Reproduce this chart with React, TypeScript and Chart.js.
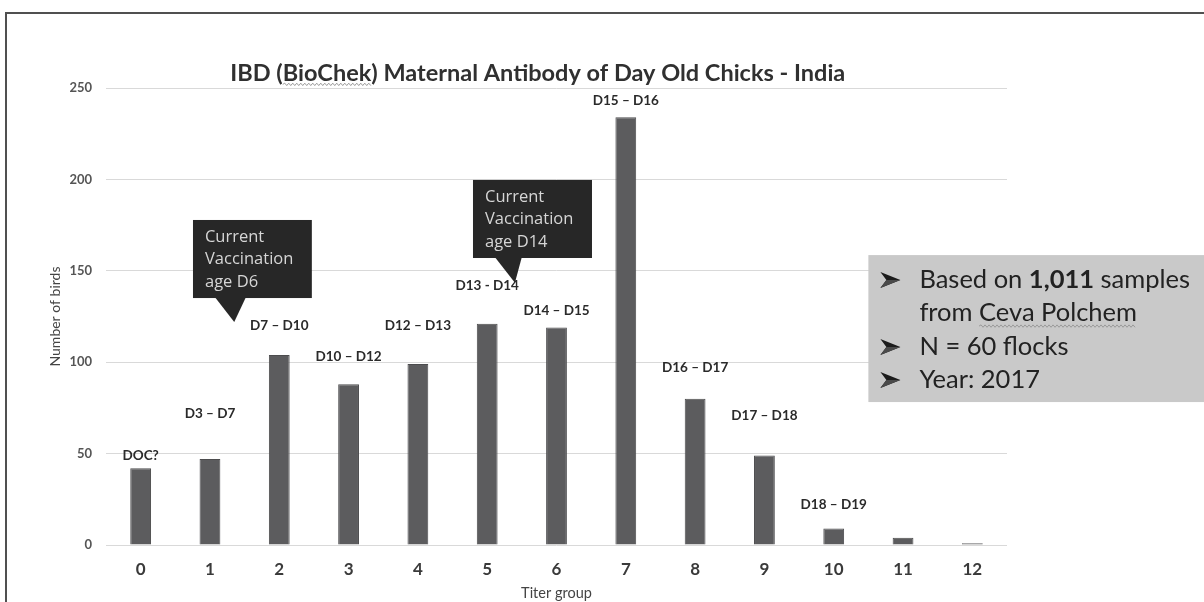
import React, { useEffect, useRef } from "react";
import { Chart, registerables } from "chart.js";

Chart.register(...registerables);

// ---------- data ----------
const categories = ["0", "1", "2", "3", "4", "5", "6", "7", "8", "9", "10", "11", "12"];
const birdCounts = [42, 47, 104, 88, 99, 121, 119, 234, 80, 49, 9, 4, 1];
const rangeLabels = [
  "DOC?",
  "D3 – D7",
  "D7 – D10",
  "D10 – D12",
  "D12 – D13",
  "D13 - D14",
  "D14 – D15",
  "D15 – D16",
  "D16 – D17",
  "D17 – D18",
  "D18 – D19",
  "",
  "",
];
// level (in "Number of birds" units) at which each range label sits
const rangeLabelLevels = [49, 72, 120, 103, 120, 142, 128, 243, 97, 71, 22, 0, 0];
const yTickValues = [0, 50, 100, 150, 200, 250];

const titleText = "IBD (BioChek) Maternal Antibody of Day Old Chicks - India";
const xAxisTitle = "Titer group";
const yAxisTitle = "Number of birds";

const callout1Lines = ["Current", "Vaccination", "age D6"];
const callout2Lines = ["Current", "Vaccination", "age D14"];

const infoLine1 = ["Based on ", "1,011", " samples"];
const infoLine2 = ["from ", "Ceva Polchem"];
const infoLine3 = "N = 60 flocks";
const infoLine4 = "Year: 2017";

// ---------- annotation geometry (category units / value units) ----------
const calloutShapes = [
  { lines: callout1Lines, x0: 0.755, x1: 2.47, yTop: 177.8, yBottom: 135.1, baseL: 1.07, baseR: 1.52, tipX: 1.35, tipY: 122 },
  { lines: callout2Lines, x0: 4.795, x1: 6.512, yTop: 199.7, yBottom: 157, baseL: 5.11, baseR: 5.5, tipX: 5.4, tipY: 143.5 },
];

function wavy(ctx: CanvasRenderingContext2D, x0: number, x1: number, yy: number) {
  ctx.save();
  ctx.strokeStyle = "#9a9a9a";
  ctx.lineWidth = 1;
  ctx.beginPath();
  let up = true;
  ctx.moveTo(x0, yy);
  for (let xx = x0 + 2; xx <= x1; xx += 2) {
    ctx.lineTo(xx, up ? yy - 1.2 : yy + 1.2);
    up = !up;
  }
  ctx.stroke();
  ctx.restore();
}

function arrowBullet(ctx: CanvasRenderingContext2D, x: number, cy: number) {
  ctx.save();
  ctx.fillStyle = "#1c1c1c";
  ctx.beginPath();
  ctx.moveTo(x, cy - 8);
  ctx.lineTo(x + 20, cy);
  ctx.lineTo(x, cy + 8);
  ctx.lineTo(x + 6, cy);
  ctx.closePath();
  ctx.fill();
  ctx.fillStyle = "#4a4a4a";
  ctx.beginPath();
  ctx.moveTo(x + 6, cy);
  ctx.lineTo(x + 20, cy);
  ctx.lineTo(x, cy + 8);
  ctx.closePath();
  ctx.fill();
  ctx.restore();
}

const decorPlugin = {
  id: "decor",
  beforeDraw(chart: any) {
    const ctx = chart.ctx;
    ctx.save();
    ctx.fillStyle = "#ffffff";
    ctx.fillRect(0, 0, chart.width, chart.height);
    ctx.restore();
  },
  afterDraw(chart: any) {
    const ctx: CanvasRenderingContext2D = chart.ctx;
    const xs = chart.scales.x;
    const ys = chart.scales.y;
    const step = xs.getPixelForValue(1) - xs.getPixelForValue(0);
    const px = (c: number) => xs.getPixelForValue(0) + c * step;
    const py = (v: number) => ys.getPixelForValue(v);

    ctx.save();

    // frame (top and left edges)
    ctx.strokeStyle = "#505050";
    ctx.lineWidth = 2;
    ctx.beginPath();
    ctx.moveTo(6, chart.height);
    ctx.lineTo(6, 13);
    ctx.lineTo(chart.width, 13);
    ctx.stroke();

    // title
    ctx.font = "bold 23.5px Lato";
    ctx.fillStyle = "#303030";
    ctx.textBaseline = "middle";
    ctx.textAlign = "left";
    const tw = ctx.measureText(titleText).width;
    const tcx = px(5.73);
    const tx = tcx - tw / 2;
    const tY = py(258);
    ctx.fillText(titleText, tx, tY);
    const preW = ctx.measureText("IBD (").width;
    const bcW = ctx.measureText("BioChek").width;
    wavy(ctx, tx + preW, tx + preW + bcW, tY + 11);

    // range labels above bars
    ctx.font = "bold 13.5px Lato";
    ctx.fillStyle = "#2a2a2a";
    ctx.textAlign = "center";
    ctx.textBaseline = "middle";
    rangeLabels.forEach((t, i) => {
      if (!t) return;
      ctx.fillText(t, px(i), py(rangeLabelLevels[i]));
    });

    // callouts
    calloutShapes.forEach((c) => {
      const l = px(c.x0), r = px(c.x1), t = py(c.yTop), b = py(c.yBottom);
      ctx.fillStyle = "#272727";
      ctx.fillRect(l, t, r - l, b - t);
      ctx.beginPath();
      ctx.moveTo(px(c.baseL), b - 1);
      ctx.lineTo(px(c.tipX), py(c.tipY));
      ctx.lineTo(px(c.baseR), b - 1);
      ctx.closePath();
      ctx.fill();
      ctx.fillStyle = "#d6d6d6";
      ctx.font = "16.5px 'Open Sans'";
      ctx.textAlign = "left";
      ctx.textBaseline = "middle";
      c.lines.forEach((ln, k) => {
        ctx.fillText(ln, l + 12, t + 17 + k * 22.5);
      });
    });

    // info box
    const bl = px(10.5);
    const bt = py(158.6);
    const bb = py(78.2);
    ctx.fillStyle = "#c9c9c9";
    ctx.fillRect(bl, bt, chart.width - bl, bb - bt);
    const bx = bl + 12;
    const txx = bl + 51;
    const rows = [bt + 25, bt + 58, bt + 92, bt + 125];
    rows.forEach((ry, k) => {
      if (k === 1) return;
      arrowBullet(ctx, bx, ry);
    });
    ctx.fillStyle = "#222222";
    ctx.textAlign = "left";
    ctx.textBaseline = "middle";
    const reg = "25.5px Lato";
    const bold = "bold 25.5px Lato";
    // line 1
    let cx = txx;
    ctx.font = reg;
    ctx.fillText(infoLine1[0], cx, rows[0]);
    cx += ctx.measureText(infoLine1[0]).width;
    ctx.font = bold;
    ctx.fillText(infoLine1[1], cx, rows[0]);
    cx += ctx.measureText(infoLine1[1]).width;
    ctx.font = reg;
    ctx.fillText(infoLine1[2], cx, rows[0]);
    // line 2
    ctx.font = reg;
    ctx.fillText(infoLine2[0] + infoLine2[1], txx, rows[1]);
    const fw = ctx.measureText(infoLine2[0]).width;
    const cw = ctx.measureText(infoLine2[1]).width;
    wavy(ctx, txx + fw, txx + fw + cw, rows[1] + 13);
    // lines 3,4
    ctx.fillText(infoLine3, txx, rows[2]);
    ctx.fillText(infoLine4, txx, rows[3]);

    ctx.restore();
  },
};

export default function App() {
  const ref = useRef<HTMLCanvasElement | null>(null);

  useEffect(() => {
    document.body.style.margin = "0";
    if (!ref.current) return;
    const chart = new Chart(ref.current, {
      type: "bar",
      data: {
        labels: categories,
        datasets: [
          {
            data: birdCounts,
            backgroundColor: "#5c5c5e",
            borderColor: "#4c4c4e",
            borderWidth: 1,
            barPercentage: 0.3,
            categoryPercentage: 1,
          },
        ],
      },
      options: {
        animation: false,
        responsive: false,
        maintainAspectRatio: false,
        layout: { padding: { left: 0, right: 197, top: 88, bottom: 0 } },
        plugins: {
          legend: { display: false },
          tooltip: { enabled: false },
          title: { display: false },
        },
        scales: {
          x: {
            grid: { display: false, drawTicks: false },
            border: { display: false },
            ticks: {
              font: { family: "Lato", size: 17, weight: "bold" },
              color: "#3a3a3a",
              padding: 14,
            },
            title: {
              display: true,
              text: xAxisTitle,
              font: { family: "Lato", size: 14.5 },
              color: "#444444",
              padding: { top: 0, bottom: 0 },
            },
            afterFit: (s: any) => {
              s.height = 57;
            },
          },
          y: {
            min: 0,
            max: 250,
            afterBuildTicks: (s: any) => {
              s.ticks = yTickValues.map((v) => ({ value: v }));
            },
            grid: { color: "#d9d9d9", drawTicks: false, lineWidth: 1 },
            border: { display: false },
            ticks: {
              font: { family: "Lato", size: 13, weight: "bold" },
              color: "#555555",
              padding: 14,
            },
            title: {
              display: true,
              text: yAxisTitle,
              font: { family: "Lato", size: 14 },
              color: "#444444",
              padding: { top: 47, bottom: 0 },
            },
            afterFit: (s: any) => {
              s.width = 106;
            },
          },
        },
      },
      plugins: [decorPlugin],
    });
    return () => chart.destroy();
  }, []);

  return (
    <div style={{ width: 1204, height: 602 }}>
      <canvas ref={ref} width={1204} height={602} style={{ display: "block" }} />
    </div>
  );
}
